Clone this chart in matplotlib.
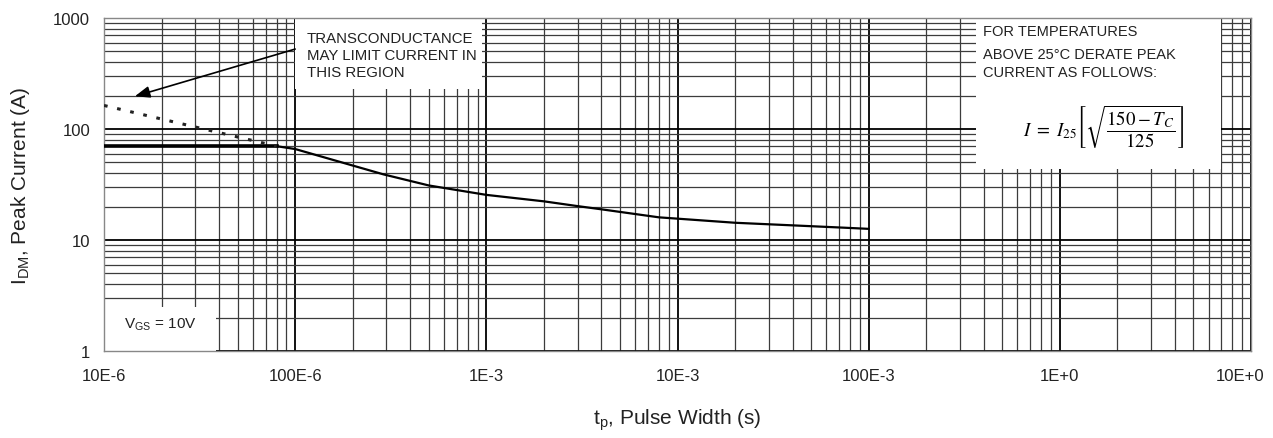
import numpy as np
import matplotlib
matplotlib.use("Agg")
import matplotlib.pyplot as plt
from matplotlib.ticker import LogLocator, NullFormatter
from matplotlib.patches import Rectangle
from matplotlib.transforms import ScaledTranslation

plt.rcParams['font.family'] = ['Liberation Sans', 'DejaVu Sans']

# ----------------------------------------------------------------------------
# Values (peak current vs pulse width)
# ----------------------------------------------------------------------------
flat_t = [1e-5, 8e-5]                 # package / bond-wire limit, thick line
flat_i = [70, 70]

pulse_t = [8e-5, 1e-4, 2.9e-4, 5e-4, 1e-3, 2e-3, 3e-3, 4e-3, 8e-3,
           2e-2, 7.5e-2, 1e-1]
pulse_i = [70, 66, 39, 31, 25.5, 22.3, 20.2, 18.9, 16, 14.3, 12.9, 12.6]

gfs_t = [1e-5, 8e-5]                  # transconductance limit, dotted
gfs_i = [163, 70]

x_ticks = [1e-5, 1e-4, 1e-3, 1e-2, 1e-1, 1e0, 1e1]
x_tick_labels = ["10E-6", "100E-6", "1E-3", "10E-3", "100E-3", "1E+0", "10E+0"]
y_ticks = [1, 10, 100, 1000]
y_tick_labels = ["1", "10", "100", "1000"]

W, H = 1273, 439


def px(x, y):
    """pixel position in the 1273x439 picture -> figure fraction"""
    return x / W, 1 - y / H


fig = plt.figure(figsize=(W / 100, H / 100), dpi=100)
ax = fig.add_axes([104 / W, 1 - 352 / H, (1251 - 104) / W, (352 - 19) / H])

ax.set_xscale("log")
ax.set_yscale("log")
ax.set_xlim(1e-5, 1e1)
ax.set_ylim(1, 1000)

ax.set_xticks(x_ticks, x_tick_labels)
ax.set_yticks(y_ticks, y_tick_labels)
for axis in (ax.xaxis, ax.yaxis):
    axis.set_minor_locator(LogLocator(base=10, subs=np.arange(2, 10), numticks=100))
    axis.set_minor_formatter(NullFormatter())
ax.tick_params(which="both", length=0, labelsize=12, labelcolor="#222")
ax.tick_params(axis="x", pad=12)
ax.tick_params(axis="y", pad=10)

# last x label sits a bit left of its tick in the original, so it stays in frame
last = ax.get_xticklabels()[-1]
last.set_transform(last.get_transform()
                   + ScaledTranslation(-0.11, 0, fig.dpi_scale_trans))

ax.set_axisbelow(True)
ax.grid(which="major", color="black", lw=1.3)
ax.grid(which="minor", color="#3c3c3c", lw=0.9)
for s in ax.spines.values():
    s.set_color("#888")
    s.set_linewidth(1.0)

# white patches holding the notes (grid hidden behind them)
for (x0, x1, y0, y1) in [(1.0e-4, 9.5e-4, 229, 1000),
                         (0.366, 6.97, 43.6, 1000),
                         (1e-5, 3.85e-5, 1, 2.49)]:
    ax.add_patch(Rectangle((x0, y0), x1 - x0, y1 - y0, facecolor="white",
                           edgecolor="none", zorder=1))

# curves
ax.plot(flat_t, flat_i, color="black", lw=2.6, zorder=3)
ax.plot(pulse_t, pulse_i, color="black", lw=1.6, zorder=3)
ax.plot(gfs_t, gfs_i, color="#222", lw=2.2, linestyle=(0, (1.2, 3.2)), zorder=3)

ax.annotate("", xy=(1.45e-5, 197), xytext=(1.0e-4, 525),
            arrowprops=dict(arrowstyle="-|>,head_length=0.9,head_width=0.35",
                            color="black", lw=1.2, shrinkA=0, shrinkB=0),
            zorder=4)

# notes
fig.text(*px(307, 56), "TRANSCONDUCTANCE\nMAY LIMIT CURRENT IN\nTHIS REGION",
         fontsize=10.8, color="#222", ha="left", va="center", linespacing=1.3)
fig.text(*px(983, 32), "FOR TEMPERATURES", fontsize=10.5, color="#222",
         ha="left", va="center")
fig.text(*px(983, 55), "ABOVE 25\u00b0C DERATE PEAK", fontsize=10.5,
         color="#222", ha="left", va="center")
fig.text(*px(983, 73), "CURRENT AS FOLLOWS:", fontsize=10.5, color="#222",
         ha="left", va="center")
fig.text(*px(1104, 127),
         r"$I\ =\ I_{25}\left[\sqrt{\dfrac{150-T_C}{125}}\right]$",
         math_fontfamily="stix", fontsize=13.5, ha="center", va="center")
fig.text(*px(160, 325), r"V$_\mathregular{GS}$ = 10V", fontsize=11,
         color="#222", ha="center", va="center")

ax.set_xlabel(r"t$_\mathregular{p}$, Pulse Width (s)", fontsize=15,
              color="#222", labelpad=17)
ax.set_ylabel(r"I$_\mathregular{DM}$, Peak Current (A)", fontsize=15,
              color="#222", labelpad=15)

fig.savefig("out.png", dpi=100)
